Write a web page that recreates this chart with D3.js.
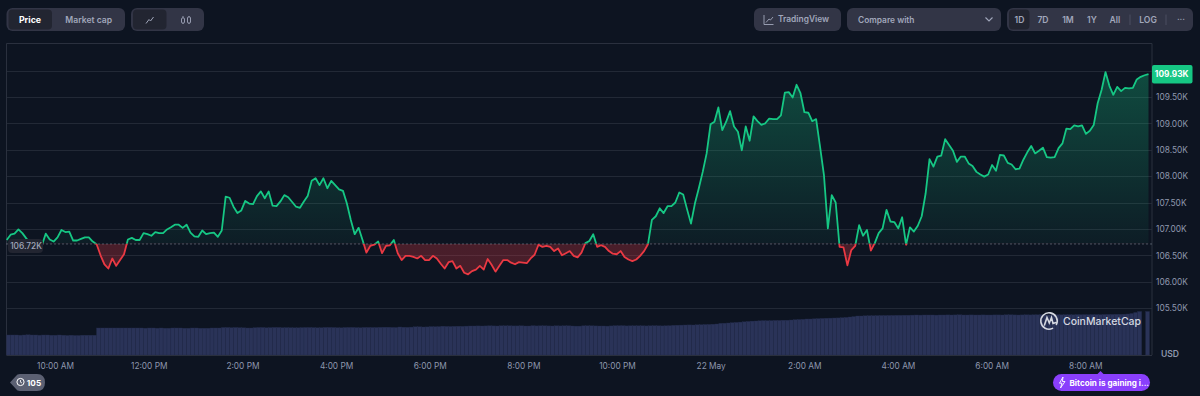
<!DOCTYPE html>
<html><head><meta charset="utf-8">
<script src="https://cdn.jsdelivr.net/npm/d3@7"></script>
<style>
html,body{margin:0;padding:0;background:#0d1421;overflow:hidden}
text{font-family:Inter,"Noto Sans",sans-serif}
</style></head><body><svg id="c" width="1200" height="396"></svg>
<script>
const prices=[106.79,106.89,106.91,106.99,106.92,106.82,106.73,106.73,106.73,106.69,106.91,106.80,106.76,106.84,106.98,106.94,106.95,106.78,106.78,106.81,106.84,106.84,106.76,106.71,106.50,106.33,106.25,106.44,106.30,106.41,106.52,106.80,106.83,106.79,106.79,106.92,106.90,106.87,106.94,106.92,106.92,106.99,107.03,107.08,107.08,107.02,107.08,106.93,106.86,106.85,106.97,106.90,106.92,106.93,106.85,106.97,107.61,107.59,107.42,107.30,107.35,107.53,107.48,107.47,107.62,107.71,107.58,107.71,107.44,107.43,107.52,107.64,107.60,107.51,107.42,107.40,107.52,107.63,107.91,107.96,107.83,107.96,107.77,107.91,107.83,107.75,107.72,107.48,107.17,106.90,107.02,106.79,106.55,106.68,106.70,106.76,106.54,106.68,106.69,106.79,106.54,
106.41,106.49,106.49,106.47,106.44,106.49,106.41,106.41,106.49,106.44,106.34,106.25,106.37,106.39,106.25,106.30,106.17,106.14,106.20,106.23,106.30,106.23,106.43,106.32,106.19,106.30,106.41,106.41,106.36,106.33,106.37,106.36,106.35,106.44,106.51,106.70,106.66,106.68,106.66,106.58,106.63,106.50,106.54,106.58,106.49,106.46,106.55,106.73,106.77,106.90,106.66,106.69,106.66,106.58,106.53,106.52,106.58,106.47,106.42,106.39,106.42,106.49,106.58,106.71,107.17,107.24,107.39,
107.30,107.43,107.43,107.50,107.69,107.65,107.37,107.10,107.48,107.77,108.08,108.43,108.98,109.03,109.30,108.87,109.03,109.23,108.94,108.84,108.49,108.94,108.67,109.13,109.04,108.97,109.00,109.09,109.08,109.08,109.15,109.58,109.59,109.49,109.73,109.57,109.21,109.20,109.04,109.08,108.56,108.02,107.01,107.64,107.50,106.66,106.65,106.31,106.60,106.68,107.07,106.87,106.98,106.59,106.73,106.92,107.01,107.36,107.14,107.13,107.01,107.22,106.70,
107.03,106.95,107.06,107.24,107.67,108.32,108.18,108.37,108.39,108.70,108.59,108.48,108.27,108.37,108.37,108.24,108.19,108.08,108.03,107.99,108.03,108.21,108.10,108.40,108.39,108.25,108.22,108.13,108.14,108.31,108.45,108.57,108.43,108.48,108.54,108.36,108.35,108.36,108.53,108.62,108.90,108.89,108.96,108.94,108.96,108.80,108.86,108.97,109.38,109.63,109.97,109.71,109.54,109.69,109.61,109.67,109.66,109.67,109.83,109.88,109.91,109.93];
const volumes=[20,20,20,19.8,20,20.2,20,20,19.8,20,20,19.8,19.8,20,19.8,19.5,19.8,19.5,19.5,19.8,19.8,19.8,19.8,
27,27,27,27,27,27,27,27,27,27,27,27,26.8,27,27,26.8,27,26.8,26.8,27,27,27,26.8,26.8,27,27,26.8,26.8,26.8,27,27,27,27.5,27.5,27.3,27.5,27.3,27.2,27,27,27.3,27.5,27.5,27.2,27.4,27.6,27.6,27.3,27.4,27.3,27.2,27.2,
27.4,27.5,27.5,27.4,27.2,27.3,27.6,27.6,27.5,27.3,27.2,27.5,27.6,27.6,27.4,27.3,27.6,27.6,27.5,27.5,27.7,27.8,27.8,27.6,27.5,28,27.8,27.7,27.9,28.2,28.2,28,28.1,28.4,28.3,28.4,
28.8,28.6,28.5,28.7,28.8,28.7,28.9,29,29,29.1,29,29.1,29.2,29.1,29,29.2,29.2,29.2,29.1,29.1,29.2,29,29,29.3,29.1,29.2,29.2,29.1,29,29.2,29.1,29.2,29.2,29,28.9,28.9,29.2,29.2,29.2,29.1,29,29,28.9,29.1,29.3,29.3,29.3,29.1,29.2,29.2,29.2,29.2,29.1,29.2,29.3,29.2,29.1,29.2,29.3,
29.7,29.8,29.9,30,30.1,30,30.2,30.3,30.5,30.6,30.8,31,
31.7,31.8,32,32.3,32.6,32.9,33.2,33.6,33.9,
34,34.2,34.4,34.3,34.4,34.6,34.6,34.8,34.8,35,35.3,35.5,35.7,
36,36,36.2,36.4,36.6,36.8,36.9,37,37.1,37.3,37.6,38,38.4,
39,39,39.2,39.3,39.3,39.4,39.5,39.5,39.6,39.6,39.7,39.7,39.8,39.8,39.9,40,39.9,
40,40,40,39.9,40,40,40.1,40,40.1,40.2,40,40,40.1,40,40,40.1,40,40,40.1,40.1,40,40.2,40.2,40.1,40,40.1,40.2,40.1,40.2,40.2,40.3,40.2,40.1,40.3,40.3,40.2,40.3,40.3,40.2,40.4,40.3,40.4,40.3,40.4,40.4,40.3,
40.5,40.6,40.6,40.7,40.7,40.8,41,41.5,42.5,43.5,0,43.5];
const startTime=new Date(2025,4,21,8,58), endTime=new Date(2025,4,22,9,21);
const timeTicks=d3.range(12).map(i=>new Date(2025,4,21,10+2*i,0));
const timeLabels=["10:00 AM","12:00 PM","2:00 PM","4:00 PM","6:00 PM","8:00 PM","10:00 PM","22 May","2:00 AM","4:00 AM","6:00 AM","8:00 AM"];
const priceTicks=[110,109.5,109,108.5,108,107.5,107,106.5,106,105.5];
const axisPriceTicks=priceTicks.slice(1);
const basePrice=106.72, lastPrice=109.93;
const tabs1=["Price","Market cap"], rangeTabs=["1D","7D","1M","1Y","All"];

const svg=d3.select("#c");
const L=6.5,R=1152,T=43.5,B=355;
const x=d3.scaleTime().domain([startTime,endTime]).range([6.7,1148.5]);
const tAt=i=>new Date(+startTime+(endTime-startTime)*i/(prices.length-1));
const y=d3.scaleLinear().domain([105.5,110]).range([308.1,70.5]);
const vx=d3.scaleBand().domain(d3.range(volumes.length)).range([6.5,1149.5]);
const vy=d3.scaleLinear().domain([0,100]).range([B,B-100]);
const by=y(basePrice);
const defs=svg.append("defs");
function grad(id,c,stops){const g=defs.append("linearGradient").attr("id",id).attr("gradientUnits","userSpaceOnUse").attr("x1",0).attr("x2",0).attr("y1",stops[0]).attr("y2",stops[1]);
 g.append("stop").attr("offset",0).attr("stop-color",c).attr("stop-opacity",stops[2]);
 g.append("stop").attr("offset",1).attr("stop-color",c).attr("stop-opacity",stops[3]);}
grad("gG","#16c784",[y(110),by,.31,.05]);
grad("gR","#ea3943",[by,y(106.1),.27,.27]);
defs.append("clipPath").attr("id","cU").append("rect").attr("x",0).attr("y",0).attr("width",1200).attr("height",by);
defs.append("clipPath").attr("id","cD").append("rect").attr("x",0).attr("y",by).attr("width",1200).attr("height",396-by);

// frame and grid
const grid="#222936";
svg.append("g").selectAll("line").data(priceTicks).join("line")
 .attr("x1",L).attr("x2",R).attr("y1",d=>Math.round(y(d))+.5).attr("y2",d=>Math.round(y(d))+.5).attr("stroke",grid);
svg.append("path").attr("d",`M${L},${B}V${T}H${R}V${B}`).attr("fill","none").attr("stroke","#2a303e");

// volume
svg.append("g").selectAll("rect").data(volumes).join("rect")
 .attr("x",(d,i)=>vx(i)).attr("width",vx.bandwidth()+.01).attr("y",d=>vy(d)).attr("height",d=>B-vy(d))
 .attr("fill","#2a3358").attr("stroke","#232b4a").attr("stroke-width",.35);
svg.append("line").attr("x1",L).attr("x2",R).attr("y1",B+.5).attr("y2",B+.5).attr("stroke","#2a303e");

// area and line
const area=d3.area().x((d,i)=>x(tAt(i))).y0(by).y1(d=>y(d));
const line=d3.line().x((d,i)=>x(tAt(i))).y(d=>y(d));
svg.append("path").datum(prices).attr("d",area).attr("fill","url(#gG)").attr("clip-path","url(#cU)");
svg.append("path").datum(prices).attr("d",area).attr("fill","url(#gR)").attr("clip-path","url(#cD)");
svg.append("line").attr("x1",L).attr("x2",R).attr("y1",by+.3).attr("y2",by+.3).attr("stroke","#8d93a3").attr("stroke-width",1).attr("stroke-dasharray","1 3");
svg.append("path").datum(prices).attr("d",line).attr("fill","none").attr("stroke","#16c784").attr("stroke-width",1.8).attr("stroke-linejoin","round").attr("clip-path","url(#cU)");
svg.append("path").datum(prices).attr("d",line).attr("fill","none").attr("stroke","#ea3943").attr("stroke-width",1.8).attr("stroke-linejoin","round").attr("clip-path","url(#cD)");

// axes
const ax=svg.append("g").attr("transform",`translate(0,${B})`).call(d3.axisBottom(x).tickValues(timeTicks).tickSize(0).tickPadding(8).tickFormat((d,i)=>timeLabels[i]));
ax.select(".domain").remove();
ax.selectAll("text").attr("fill","#8e97ad").attr("font-size",8.3).attr("font-family","Inter");
const ay=svg.append("g").attr("transform",`translate(${R},0)`).call(d3.axisRight(y).tickValues(axisPriceTicks).tickSize(0).tickPadding(4).tickFormat(d=>d3.format(".2f")(d)+"K"));
ay.select(".domain").remove();
ay.selectAll("text").attr("fill","#8e97ad").attr("font-size",8.4).attr("font-family","Inter");

function box(x0,y0,w,h,f,r){return svg.append("rect").attr("x",x0).attr("y",y0).attr("width",w).attr("height",h).attr("rx",r).attr("fill",f);}
function label(t,tx,ty,f,s,w,a){return svg.append("text").attr("x",tx).attr("y",ty).text(t).attr("fill",f).attr("font-size",s).attr("font-weight",w||500).attr("text-anchor",a||"middle");}

// price labels
box(1152,65,40.5,18.5,"#16c784",2);
label(d3.format(".2f")(lastPrice)+"K",1171.7,77.3,"#fff",8.3,700);
box(8,239,35,14,"#222531",4);
label(d3.format(".2f")(basePrice)+"K",26,249,"#a1a7bb",8.3,500);
label("USD",1170,356.5,"#8e97ad",8.6,600);

// toolbar
const bg="#323546",act="#222531",txt="#a1a7bb";
box(6.5,8,118.5,23,bg,6); box(8.5,9.5,43.5,20,act,4);
label(tabs1[0],30,22.5,"#fff",8.8,700); label(tabs1[1],88.7,22.5,txt,8.6,600);
box(131,8,73,23,bg,6); box(133,9.5,33.5,20,act,4);
svg.append("path").attr("d","M146,23.5L149,19.5L150.5,21L153.5,17").attr("fill","none").attr("stroke",txt).attr("stroke-width",1);
svg.append("path").attr("d","M183,16V24M189,16V24").attr("fill","none").attr("stroke",txt).attr("stroke-width",.9);
svg.append("rect").attr("x",181.5).attr("y",18).attr("width",3).attr("height",5).attr("rx",1).attr("fill",bg).attr("stroke",txt).attr("stroke-width",.9);
svg.append("rect").attr("x",187.5).attr("y",17).attr("width",3).attr("height",6).attr("rx",1).attr("fill",bg).attr("stroke",txt).attr("stroke-width",.9);

box(754,8,87,23,bg,6);
svg.append("path").attr("d","M764,15V24.5H773.5M766,22.5L769,19L770.5,20L773,17").attr("fill","none").attr("stroke",txt).attr("stroke-width",.9);
label("TradingView",778,22,txt,8.4,600,"start");
box(847,8,154,23,bg,6);
label("Compare with",858,23,txt,8.4,600,"start");
svg.append("path").attr("d","M985.5,17.5L989,21L992.5,17.5").attr("fill","none").attr("stroke",txt).attr("stroke-width",1.1);
box(1007,8,186,23,bg,6); box(1009,9.5,20.5,20,act,4);
const rx=[1019.5,1043,1068,1092,1115];
rangeTabs.forEach((t,i)=>label(t,rx[i],23,txt,8.6,600));
svg.append("path").attr("d","M1130,14.5V25M1166,14.5V25").attr("stroke","#4a4f60");
label("LOG",1148,23,txt,8.6,600);
label("···",1181,22,txt,8.6,600);

// watermark
const wm=svg.append("g").attr("fill","none").attr("stroke","#d5d8e0").attr("stroke-width",1.6).attr("stroke-linecap","round");
wm.append("path").attr("d","M1056.4,324.5A8.2,8.2 0 1 0 1052.5,328.4");
wm.append("path").attr("d","M1044.5,325L1047,317.5L1049.3,323L1051.5,317.5L1053,323.5L1056,322.5");
label("CoinMarketCap",1063,325.2,"#d5d8e0",10.8,500,"start").attr("textLength",78).attr("lengthAdjust","spacingAndGlyphs");

// bottom badges
svg.append("path").attr("d","M10,382.5L16,376Q17,374 20,374H37Q45,374 45,382.5Q45,391 37,391H20Q17,391 16,389Z").attr("fill","#5b6072");
svg.append("circle").attr("cx",20.5).attr("cy",382).attr("r",3.6).attr("fill","none").attr("stroke","#fff").attr("stroke-width",1);
svg.append("path").attr("d","M20.5,380V382.2L22,383").attr("fill","none").attr("stroke","#fff").attr("stroke-width",.8);
label("105",34,385.5,"#fff",8.2,700);
svg.append("path").attr("d","M1097,374.5L1100.5,371L1104,374.5Z").attr("fill","#8a3ffc");
box(1053,374,97,17,"#8a3ffc",8.5);
svg.append("path").attr("d","M1063,377L1059.5,383.2H1062L1060.5,388L1065,381.5H1062.4Z").attr("fill","none").attr("stroke","#fff").attr("stroke-width",.9);
label("Bitcoin is gaining i...",1069.5,385.5,"#fff",8.1,700,"start");
</script></body></html>
